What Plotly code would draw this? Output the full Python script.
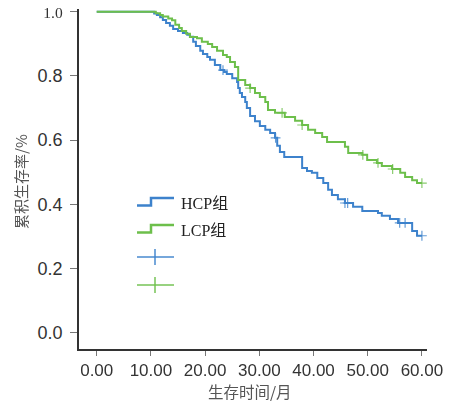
import numpy as np
import plotly.graph_objects as go

# ---- data ----
hcp_times = [10.6, 11.1, 11.7, 12.2, 12.8, 13.5, 14.1, 15.0, 15.9, 16.7, 17.2, 17.8, 18.3, 19.1,
             19.6, 20.4, 20.9, 21.8, 22.8, 23.5, 24.0, 25.0, 25.9, 26.1, 26.4, 26.8, 27.4, 27.7,
             28.3, 29.2, 30.1, 31.1, 32.0, 32.9, 33.3, 33.8, 34.6, 37.9, 38.8, 39.7, 40.7, 41.8,
             42.7, 43.4, 44.5, 45.8, 47.3, 49.0, 51.9, 52.6, 54.1, 55.6, 58.2, 59.1]
hcp_surv = [0.994, 0.990, 0.983, 0.974, 0.965, 0.956, 0.946, 0.940, 0.934, 0.928, 0.922, 0.906,
            0.893, 0.878, 0.868, 0.859, 0.850, 0.834, 0.818, 0.812, 0.806, 0.793, 0.781, 0.762,
            0.747, 0.734, 0.719, 0.700, 0.675, 0.659, 0.644, 0.632, 0.622, 0.607, 0.582, 0.563,
            0.547, 0.513, 0.504, 0.498, 0.482, 0.466, 0.445, 0.429, 0.416, 0.404, 0.392, 0.379,
            0.373, 0.364, 0.354, 0.342, 0.317, 0.302]
hcp_censor = [23.3, 33.0, 45.8, 46.3, 55.9, 56.9, 60.0]

lcp_times = [10.9, 11.7, 12.2, 13.2, 13.9, 14.5, 15.2, 15.7, 16.5, 17.2, 18.5, 19.4, 20.5, 21.3,
             22.2, 23.3, 24.0, 24.6, 25.5, 26.1, 27.4, 28.3, 29.2, 30.1, 31.1, 31.6, 32.9, 34.7,
             36.6, 37.9, 39.0, 40.3, 41.6, 42.5, 45.8, 46.4, 49.0, 49.9, 51.7, 52.6, 54.5, 56.0,
             56.9, 58.2, 59.1]
lcp_surv = [0.995, 0.990, 0.985, 0.979, 0.973, 0.959, 0.949, 0.940, 0.931, 0.921, 0.917, 0.906,
            0.899, 0.890, 0.878, 0.865, 0.859, 0.843, 0.828, 0.787, 0.772, 0.762, 0.747, 0.734,
            0.719, 0.694, 0.685, 0.672, 0.660, 0.647, 0.632, 0.622, 0.610, 0.594, 0.579, 0.560,
            0.554, 0.538, 0.529, 0.519, 0.510, 0.498, 0.485, 0.475, 0.466]
lcp_censor = [28.3, 34.2, 37.9, 49.1, 51.9, 54.6, 60.0]

end_time = 60.0
group_names = ["HCP组", "LCP组"]
x_title = "生存时间/月"
y_title = "累积生存率/%"
x_ticks = [0, 10, 20, 30, 40, 50, 60]
x_tick_labels = ["0.00", "10.00", "20.00", "30.00", "40.00", "50.00", "60.00"]
y_ticks = [0.0, 0.2, 0.4, 0.6, 0.8, 1.0]
y_tick_labels = ["0.0", "0.2", "0.4", "0.6", "0.8", "1.0"]

BLUE = "#3d82cc"
GREEN = "#6dbf4b"


def step_xy(times, surv):
    xs = [0.0] + list(times) + [end_time]
    ys = [1.0] + list(surv) + [surv[-1]]
    return xs, ys


def surv_at(times, surv, t):
    idx = np.searchsorted(np.array(times), t, side="right") - 1
    return 1.0 if idx < 0 else surv[idx]


fig = go.Figure()
for times, surv, cens, col, name in [
    (hcp_times, hcp_surv, hcp_censor, BLUE, group_names[0]),
    (lcp_times, lcp_surv, lcp_censor, GREEN, group_names[1]),
]:
    xs, ys = step_xy(times, surv)
    fig.add_trace(go.Scatter(x=xs, y=ys, mode="lines", line=dict(color=col, width=2, shape="hv"),
                             name=name, showlegend=False))
    fig.add_trace(go.Scatter(x=cens, y=[surv_at(times, surv, c) for c in cens], mode="markers",
                             marker=dict(symbol="cross-thin", size=7, line=dict(color=col, width=1.2)),
                             opacity=0.8, showlegend=False))

# the page body has an 8px margin; the figure is sized so the page fits the window
OFF = 8
W, H = 448, 397
L, R, T, B = 71, 29, 1, 56
PW, PH = W - L - R, H - T - B


def px(x):  # screen pixel -> paper
    return (x - OFF - L) / PW


def py(y):  # screen pixel -> paper
    return (H - B - (y - OFF)) / PH


shapes = []
# legend step icons
for dy, col in [(0, BLUE), (27, GREEN)]:
    path = "M {},{} L {},{} L {},{} L {},{}".format(
        px(137), py(205.5 + dy), px(151), py(205.5 + dy), px(151), py(198 + dy), px(174), py(198 + dy))
    shapes.append(dict(type="path", xref="paper", yref="paper", path=path,
                       line=dict(color=col, width=2.5)))
# legend censor icons
for yc, col in [(257, BLUE), (285, GREEN)]:
    shapes.append(dict(type="line", xref="paper", yref="paper", x0=px(137), x1=px(174),
                       y0=py(yc), y1=py(yc), line=dict(color=col, width=2), opacity=0.7))
    shapes.append(dict(type="line", xref="paper", yref="paper", x0=px(155), x1=px(155),
                       y0=py(yc - 8), y1=py(yc + 8), line=dict(color=col, width=2), opacity=0.7))

annotations = []
for name, yc in [(group_names[0], 203), (group_names[1], 230)]:
    annotations.append(dict(text=name, xref="paper", yref="paper", x=px(179), y=py(yc),
                            xanchor="left", yanchor="middle", showarrow=False,
                            font=dict(family="Liberation Serif, Noto Sans CJK SC", size=16, color="#222")))
# axis titles
annotations.append(dict(text=x_title, xref="paper", yref="paper", x=px(250), y=py(391),
                        xanchor="center", yanchor="middle", showarrow=False,
                        font=dict(family="Noto Sans CJK SC", size=15.5, color="#555")))
annotations.append(dict(text=y_title, xref="paper", yref="paper", x=px(20), y=py(182),
                        xanchor="center", yanchor="middle", showarrow=False, textangle=-90,
                        font=dict(family="Noto Sans CJK SC", size=15, color="#555")))

# the top y label is set in a smaller serif face in the reference
y_text = [t if t != "1.0" else
          "<span style='font-family:Liberation Serif;font-size:15.5px'>" + t + "</span>"
          for t in y_tick_labels]

fig.update_layout(
    width=W, height=H, margin=dict(l=L, r=R, t=T, b=B, autoexpand=False),
    plot_bgcolor="white", paper_bgcolor="white",
    shapes=shapes, annotations=annotations,
    xaxis=dict(range=[-3.27, 60.94], tickvals=x_ticks, ticktext=x_tick_labels, showgrid=False,
               zeroline=False, automargin=False, ticklabeloverflow="allow",
               showline=True, linecolor="#333", linewidth=1.5, ticks="outside", ticklen=5,
               tickcolor="#777", tickwidth=1.2,
               tickfont=dict(family="Liberation Sans, Arial", size=17, color="#333")),
    yaxis=dict(range=[-0.0508, 1.0084], tickvals=y_ticks, ticktext=y_text, showgrid=False,
               zeroline=False, automargin=False, ticklabeloverflow="allow", ticklabelstandoff=4,
               showline=True, linecolor="#333", linewidth=1.5, ticks="outside", ticklen=7,
               tickcolor="#777", tickwidth=1.2,
               tickfont=dict(family="Liberation Sans, Arial", size=18, color="#333")),
)

fig.write_html("out.html")
